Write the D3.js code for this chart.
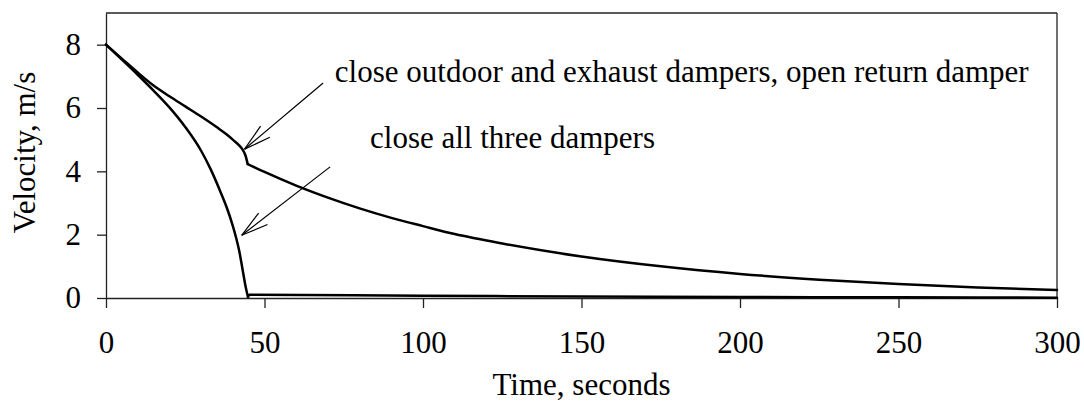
<!DOCTYPE html>
<html>
<head>
<meta charset="utf-8">
<script src="https://cdn.jsdelivr.net/npm/d3@7/dist/d3.min.js"></script>
<style>
  html, body { margin: 0; padding: 0; background: #fff; }
  svg { display: block; font-family: "Liberation Serif", "Times New Roman", serif; }
</style>
</head>
<body>
<svg id="chart" width="1084" height="402"></svg>
<script>
// ---- data ----
const xTicks = [0, 50, 100, 150, 200, 250, 300];
const yTicks = [0, 2, 4, 6, 8];
const xLabel = "Time, seconds";
const yLabel = "Velocity, m/s";

// close outdoor and exhaust dampers, open return damper
const returnOpenTime = [0, 5, 10, 15, 20, 25, 30, 35, 38, 40, 42, 43, 44, 44.7, 50, 60, 70, 80, 90, 100, 110, 125, 150, 175, 200, 225, 250, 275, 300];
const returnOpenVel  = [8.0, 7.56, 7.12, 6.71, 6.37, 6.05, 5.73, 5.39, 5.17, 5.00, 4.82, 4.70, 4.50, 4.23, 3.98, 3.55, 3.17, 2.83, 2.53, 2.27, 2.02, 1.72, 1.31, 1.00, 0.76, 0.58, 0.44, 0.33, 0.25];

// close all three dampers
const allClosedTime = [0, 5, 10, 15, 20, 25, 30, 33, 36, 38, 40, 41, 42, 43, 44, 44.8, 45.2, 100, 150, 200, 250, 300];
const allClosedVel  = [8.0, 7.53, 7.05, 6.55, 6.02, 5.40, 4.65, 4.07, 3.38, 2.88, 2.28, 1.92, 1.50, 0.95, 0.38, 0.03, 0.10, 0.07, 0.05, 0.03, 0.02, 0.01];

// time at which the dampers finish closing (sharp corner in each curve)
const kneeTimes = [44.7, 44.8];

// annotations: text anchor (data units) and arrow (from -> tip, data units)
const noteTexts  = ["close outdoor and exhaust dampers, open return damper", "close all three dampers"];
const noteTextX  = [72.2, 83.3];
const noteTextY  = [6.82, 4.73];
const arrowFromX = [68.5, 70.7];
const arrowFromY = [6.79, 4.14];
const arrowToX   = [43.7, 42.8];
const arrowToY   = [4.70, 1.98];

// ---- layout ----
const svg = d3.select("#chart");
const mLeft = 106, mRight = 1057, mTop = 13, mBottom = 298;
const x = d3.scaleLinear().domain([0, 300]).range([mLeft, mRight]);
const y = d3.scaleLinear().domain([0, 9]).range([mBottom, mTop]);
const axisColor = "#222";

// frame (top and right)
svg.append("line").attr("x1", mLeft).attr("x2", mRight).attr("y1", mTop).attr("y2", mTop)
  .attr("stroke", axisColor).attr("stroke-width", 1.3);
svg.append("line").attr("x1", mRight).attr("x2", mRight).attr("y1", mTop).attr("y2", mBottom)
  .attr("stroke", axisColor).attr("stroke-width", 1.3);

// x axis
const gx = svg.append("g").attr("transform", `translate(0,${mBottom})`)
  .call(d3.axisBottom(x).tickValues(xTicks).tickSizeInner(10).tickSizeOuter(0).tickFormat(d3.format("d")));
gx.select(".domain").attr("stroke", axisColor).attr("stroke-width", 1.3);
gx.selectAll(".tick line").attr("stroke", axisColor).attr("stroke-width", 1.3);
gx.selectAll(".tick text").attr("y", 55).attr("dy", null)
  .attr("font-size", 31).attr("fill", "#000").attr("font-family", "Liberation Serif");

// y axis
const gy = svg.append("g").attr("transform", `translate(${mLeft},0)`)
  .call(d3.axisLeft(y).tickValues(yTicks).tickSizeInner(9).tickSizeOuter(0).tickFormat(d3.format("d")));
gy.select(".domain").attr("stroke", axisColor).attr("stroke-width", 1.3);
gy.selectAll(".tick line").attr("stroke", axisColor).attr("stroke-width", 1.3);
gy.selectAll(".tick text").attr("x", -25).attr("dy", "0.32em")
  .attr("font-size", 31).attr("fill", "#000").attr("font-family", "Liberation Serif");

// axis titles
svg.append("text").attr("x", (mLeft + mRight) / 2).attr("y", 395)
  .attr("text-anchor", "middle").attr("font-size", 31).text(xLabel);
svg.append("text").attr("transform", `translate(35,${(mTop + mBottom) / 2 - 3}) rotate(-90)`)
  .attr("text-anchor", "middle").attr("font-size", 31).text(yLabel);

// curves: each series is smoothed on both sides of its knee, keeping the corner sharp
const line = d3.line().curve(d3.curveMonotoneX).x(d => x(d[0])).y(d => y(d[1]));
const seriesList = [
  d3.zip(returnOpenTime, returnOpenVel),
  d3.zip(allClosedTime, allClosedVel)
];
const segments = [];
seriesList.forEach((pts, i) => {
  segments.push(pts.filter(d => d[0] <= kneeTimes[i]));
  segments.push(pts.filter(d => d[0] >= kneeTimes[i]));
});
svg.append("g").selectAll("path").data(segments).join("path")
  .attr("d", line).attr("fill", "none").attr("stroke", "#000")
  .attr("stroke-width", 2.5).attr("stroke-linejoin", "round").attr("stroke-linecap", "round");

// annotations
const notes = noteTexts.map((t, i) => ({
  t, tx: noteTextX[i], ty: noteTextY[i],
  fx: arrowFromX[i], fy: arrowFromY[i], ax: arrowToX[i], ay: arrowToY[i]
}));
const gn = svg.append("g");
notes.forEach(n => {
  gn.append("text").attr("x", x(n.tx)).attr("y", y(n.ty)).attr("font-size", 31).text(n.t);
  const x1 = x(n.fx), y1 = y(n.fy), x2 = x(n.ax), y2 = y(n.ay);
  gn.append("line").attr("x1", x1).attr("y1", y1).attr("x2", x2).attr("y2", y2)
    .attr("stroke", "#000").attr("stroke-width", 1.2);
  const ang = Math.atan2(y1 - y2, x1 - x2);
  const len = 28, spread = 15 * Math.PI / 180;
  [ -spread, spread ].forEach(s => {
    gn.append("line").attr("x1", x2).attr("y1", y2)
      .attr("x2", x2 + len * Math.cos(ang + s)).attr("y2", y2 + len * Math.sin(ang + s))
      .attr("stroke", "#000").attr("stroke-width", 1.2);
  });
});
</script>
</body>
</html>
